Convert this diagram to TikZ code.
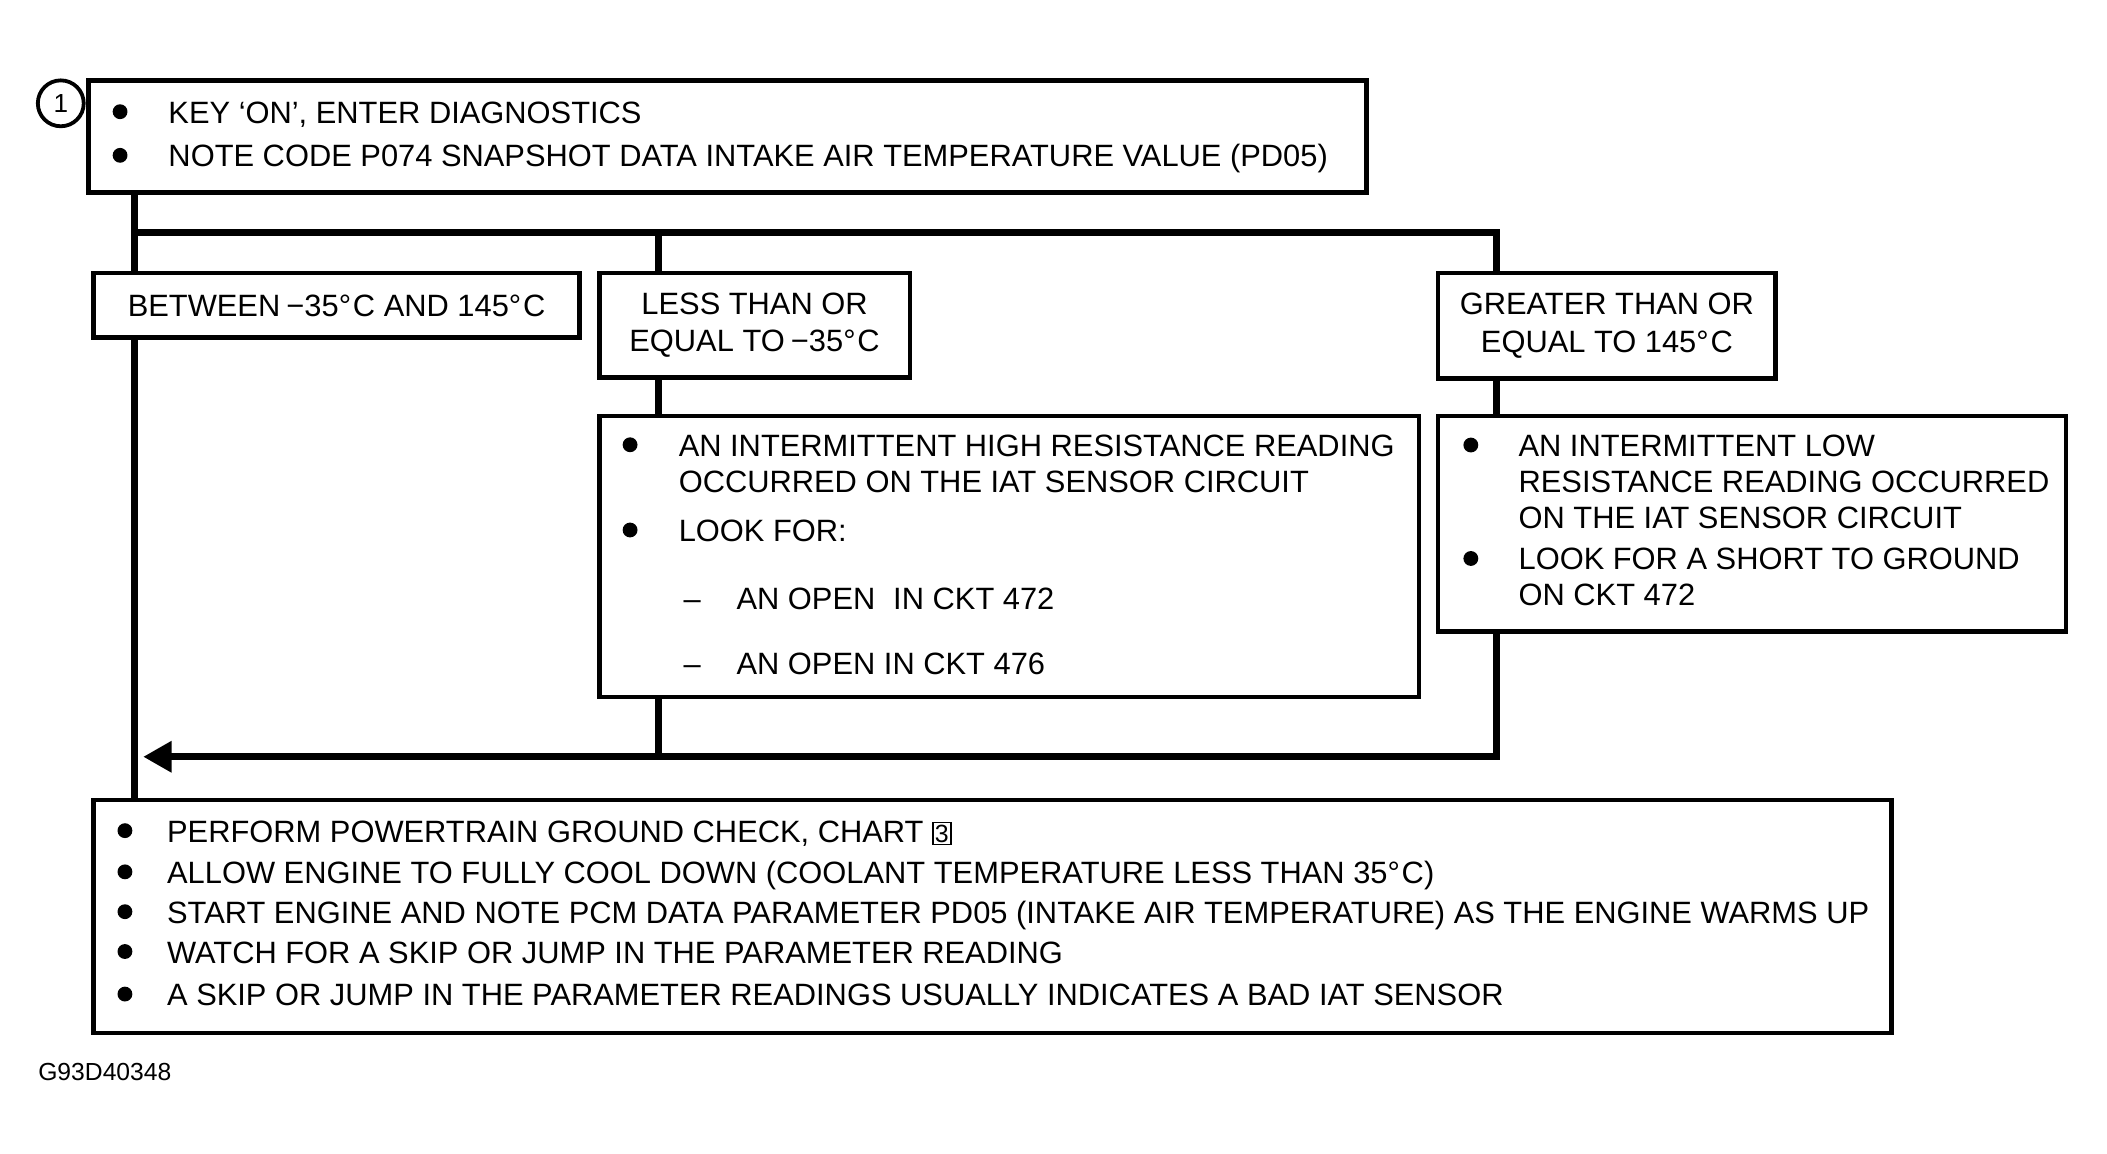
\documentclass[tikz,border=0pt]{standalone}
\usepackage{fontspec}
\setmainfont{Liberation Sans}
\usetikzlibrary{arrows.meta}

\newcommand{\degc}{°\hspace{0.06em}C}
\newcommand{\mns}{\hspace{0.2em}−}

\tikzset{
  box/.style={draw, line width=2pt, anchor=north west, inner sep=0pt, align=center},
  link/.style={line width=3pt, line join=miter},
  txt/.style={anchor=base west, inner sep=0pt},
  dot/.style={circle, fill, inner sep=0pt, minimum size=0.22cm},
}

\begin{document}
\begin{tikzpicture}[x=0.02cm, y=-0.02cm, font=\fontsize{13.0}{15.9}\selectfont]
  \useasboundingbox (0,0) rectangle (1560,854.4);

  % boxes
  \node[box, minimum width=18.93cm, minimum height=1.654cm] (start) at (63.5,58) {};
  \node[circle, draw, line width=1.6pt, minimum size=0.68cm, inner sep=0pt,
        font=\fontsize{11}{11}\selectfont] (num) at (45,76.5) {1};
  \node[box, minimum width=7.196cm, minimum height=0.958cm] (between) at (67.6,200.4)
    {BETWEEN\mns35\degc{} AND 145\degc};
  \node[box, minimum width=4.602cm, minimum height=1.546cm] (lowtemp) at (441.9,200.4)
    {LESS THAN OR\\EQUAL TO\mns35\degc};
  \node[box, minimum width=5.0cm, minimum height=1.566cm] (hightemp) at (1063,200.4)
    {GREATER THAN OR\\EQUAL TO 145\degc};
  \node[box, minimum width=12.142cm, minimum height=4.16cm] (opencheck) at (441.9,306.3) {};
  \node[box, minimum width=9.3cm, minimum height=3.194cm] (shortcheck) at (1063,306.3) {};
  \node[box, minimum width=26.628cm, minimum height=3.448cm] (final) at (67.6,590.6) {};

  % first box
  \foreach \y [count=\i] in {82.7,115} \node[dot] (sd\i) at (88.9,\y) {};
  \node[txt] (s1) at (124.4,91.3) {KEY ‘ON’, ENTER DIAGNOSTICS};
  \node[txt] (s2) at (124.4,123.2) {NOTE CODE P074 SNAPSHOT DATA INTAKE AIR TEMPERATURE VALUE (PD05)};

  % high resistance
  \foreach \y [count=\i] in {329.3,392.4} \node[dot] (od\i) at (466.5,\y) {};
  \node[txt] (o1) at (502.2,337.8) {AN INTERMITTENT HIGH RESISTANCE READING};
  \node[txt] (o2) at (502.2,364.9) {OCCURRED ON THE IAT SENSOR CIRCUIT};
  \node[txt] (o3) at (502.2,400.9) {LOOK FOR:};
  \node[txt] (odash1) at (505.8,451.5) {–};
  \node[txt] (odash2) at (505.8,499.6) {–};
  \node[txt] (o4) at (545,451.5) {AN OPEN\hspace{0.3em} IN CKT 472};
  \node[txt] (o5) at (545,499.6) {AN OPEN IN CKT 476};

  % low resistance
  \foreach \y [count=\i] in {329.5,413.5} \node[dot] (rd\i) at (1089,\y) {};
  \node[txt] (r1) at (1124,338) {AN INTERMITTENT LOW};
  \node[txt] (r2) at (1124,365) {RESISTANCE READING OCCURRED};
  \node[txt] (r3) at (1124,391.5) {ON THE IAT SENSOR CIRCUIT};
  \node[txt] (r4) at (1124,422) {LOOK FOR A SHORT TO GROUND};
  \node[txt] (r5) at (1124,448.5) {ON CKT 472};

  % last box
  \foreach \y [count=\i] in {615,645.5,675,704.5,736} \node[dot] (fd\i) at (92.5,\y) {};
  \node[txt] (f1) at (123.4,623.5) {PERFORM POWERTRAIN GROUND CHECK, CHART
    {\fontsize{10.5}{10.5}\selectfont\setlength\fboxsep{0.6pt}\setlength\fboxrule{0.6pt}\fbox{3}}};
  \node[txt] (f2) at (123.4,654) {ALLOW ENGINE TO FULLY COOL DOWN (COOLANT TEMPERATURE LESS THAN 35\degc)};
  \node[txt] (f3) at (123.4,683.5) {START ENGINE AND NOTE PCM DATA PARAMETER PD05 (INTAKE AIR TEMPERATURE) AS THE ENGINE WARMS UP};
  \node[txt] (f4) at (123.4,713) {WATCH FOR A SKIP OR JUMP IN THE PARAMETER READING};
  \node[txt] (f5) at (123.4,744.5) {A SKIP OR JUMP IN THE PARAMETER READINGS USUALLY INDICATES A BAD IAT SENSOR};

  \node[txt, font=\fontsize{10.4}{12}\selectfont] (code) at (28,800) {G93D40348};

  % connectors
  \coordinate (cL) at (99.5,172.3);
  \coordinate (cM) at (487.4,172.3);
  \coordinate (cR) at (1108,172.3);
  \coordinate (ret) at (1108,560.3);
  \coordinate (tip) at (106,560.3);
  \draw[link] (start.south -| cL) -- (cL) -- (cR) -- (hightemp.north -| cR);
  \draw[link] (cM) -- (lowtemp.north -| cM);
  \draw[link] (cL) -- (between.north -| cL);
  \draw[link] (between.south -| cL) -- (final.north -| cL);
  \draw[link] (lowtemp.south -| cM) -- (opencheck.north -| cM);
  \draw[link] (hightemp.south -| cR) -- (shortcheck.north -| cR);
  \draw[link] (opencheck.south -| cM) -- (ret -| cM);
  \draw[link, -{Triangle[length=0.42cm, width=0.44cm]}] (shortcheck.south -| cR) -- (ret) -- (tip);
\end{tikzpicture}
\end{document}
